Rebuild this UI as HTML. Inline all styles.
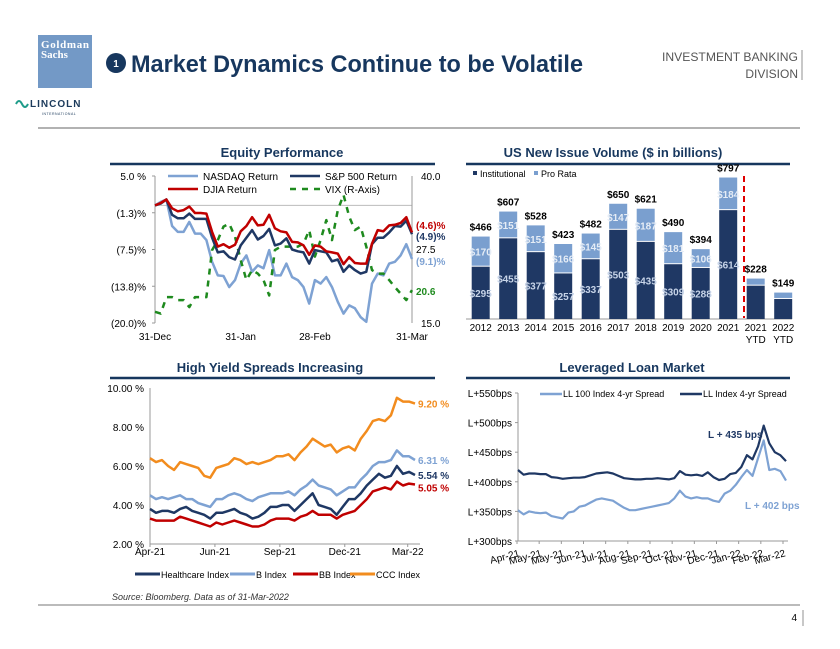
<!DOCTYPE html>
<html><head><meta charset="utf-8"><style>
html,body{margin:0;padding:0;background:#fff}
svg{display:block;font-family:"Liberation Sans",Arial,sans-serif}
</style></head><body>
<svg id="s" width="840" height="649" viewBox="0 0 840 649" xmlns="http://www.w3.org/2000/svg">
<g>
<rect x="38" y="35" width="54" height="53" fill="#7399c6"/>
<text x="41" y="48" font-family="Liberation Serif,serif" font-size="11" font-weight="bold" fill="#fff" textLength="48">Goldman</text>
<text x="41" y="58" font-family="Liberation Serif,serif" font-size="11" font-weight="bold" fill="#fff">Sachs</text>
<circle cx="116" cy="63" r="10" fill="#17375e"/>
<text x="116" y="67" font-size="10" font-weight="bold" fill="#fff" text-anchor="middle">1</text>
<text x="131" y="72" font-size="24" font-weight="bold" fill="#17375e" textLength="452" lengthAdjust="spacingAndGlyphs">Market Dynamics Continue to be Volatile</text>
<text x="798" y="61" font-size="12" fill="#555" text-anchor="end" textLength="136" lengthAdjust="spacingAndGlyphs">INVESTMENT BANKING</text>
<text x="798" y="78" font-size="12" fill="#555" text-anchor="end">DIVISION</text>
<line x1="802" y1="50" x2="802" y2="80" stroke="#777" stroke-width="0.8"/>
<path d="M16 104 q3 -6 6 0 t6 0" fill="none" stroke="#1f9c8a" stroke-width="2"/>
<text x="30" y="107" font-size="10" font-weight="bold" fill="#1b3a5b" letter-spacing="1">LINCOLN</text>
<text x="42" y="115" font-size="3.5" fill="#1b3a5b" letter-spacing="0.5">INTERNATIONAL</text>
<line x1="38" y1="128" x2="800" y2="128" stroke="#999" stroke-width="1.5"/>
</g>
<g>
<text x="112" y="600" font-size="9" font-style="italic" fill="#333">Source: Bloomberg. Data as of 31-Mar-2022</text>
<line x1="38" y1="605" x2="800" y2="605" stroke="#777" stroke-width="1"/>
<text x="797" y="621" font-size="10" fill="#000" text-anchor="end">4</text>
<line x1="803" y1="610" x2="803" y2="626" stroke="#777" stroke-width="0.8"/>
</g>
<g id="g1"></g>
<g id="g2"></g>
<g id="g3"></g>
<g id="g4"></g>
</svg>
<script>
// ---------- Chart 1 data ----------
const eqTicks = ["5.0 %","(1.3)%","(7.5)%","(13.8)%","(20.0)%"];
const eqTickVals = [5,-1.25,-7.5,-13.75,-20];
const vixTicks = ["40.0","27.5","15.0"];
const vixTickVals = [40,27.5,15];
const eqXLabels = ["31-Dec","31-Jan","28-Feb","31-Mar"];
const eqXLabelIdx = [0,15,28,45];
const nasdaq = [0,0.6,1,-3.5,-4.5,-4.5,-2.8,-4.8,-4.8,-5.9,-9.6,-11.9,-12,-13.9,-12.7,-9.9,-8.5,-11.3,-10.2,-10.7,-7.6,-11.9,-11.9,-9.9,-12.2,-12.7,-13.9,-16.7,-12.7,-13.3,-12.2,-13.9,-16.4,-18.4,-17,-17.5,-19,-19.8,-13.3,-11.6,-11.9,-9.9,-9.6,-8.5,-6.6,-9.1];
const sp500 = [0,0.3,1,-1.6,-2.2,-2.2,-1.4,-2.3,-2.3,-2.3,-5.5,-8,-7.8,-8.8,-9.2,-6.8,-5.5,-4.2,-5.8,-5.2,-4,-6.8,-6.5,-5.6,-7.5,-7.8,-8,-9.9,-7.6,-7.8,-8,-9.5,-9.2,-11.3,-10.2,-11,-11.6,-11.3,-6.6,-5.5,-5.5,-4.6,-3.5,-3.6,-2.6,-4.9];
const djia = [0,0.4,1,-0.5,-1,-0.8,-0.2,-1.3,-1.3,-1.4,-4.5,-7,-6.6,-7.2,-6.7,-4.4,-3.5,-2,-3.4,-3.3,-1.6,-3.9,-4.4,-4.6,-6.2,-6.3,-6.8,-8.4,-6.8,-7,-7.8,-8,-8.2,-10,-8.8,-9.8,-9.9,-9.9,-6.5,-4.2,-4.4,-3.4,-3.3,-3,-2,-4.6];
const vix = [16.9,16.6,19.4,19.4,18.9,18.9,17.7,19.4,19.4,19.4,27.4,29.1,31.4,31.9,29.7,25.7,22.3,24,23.4,22.3,19.7,27.4,28,28,28,28,28.5,30.8,26.3,29.1,32.5,29.1,34.2,36.8,33.1,30.8,31.4,28,24,23.4,23.4,22.3,21.1,20,18.9,20.6];
// ---------- Chart 2 data ----------
const years = ["2012","2013","2014","2015","2016","2017","2018","2019","2020","2021","2021\nYTD","2022\nYTD"];
const inst = [295,455,377,257,337,503,435,309,288,614,188,113];
const proRata = [170,151,151,166,145,147,187,181,106,184,40,36];
const totals = ["$466","$607","$528","$423","$482","$650","$621","$490","$394","$797","$228","$149"];
// ---------- Chart 3 data ----------
const hyTicks = ["10.00 %","8.00 %","6.00 %","4.00 %","2.00 %"];
const hyTickVals = [10,8,6,4,2];
const hyXLabels = ["Apr-21","Jun-21","Sep-21","Dec-21","Mar-22"];
const hyXFrac = [0,0.245,0.49,0.735,0.98];
const ccc = [6.4,6.2,6.3,6.0,5.8,6.2,6.1,6.0,5.9,5.5,5.4,5.9,6.0,6.1,6.4,6.3,6.1,6.2,6.1,6.2,6.3,6.5,6.5,6.6,6.3,6.7,7.0,7.4,7.2,7.0,7.1,6.7,6.9,7.0,6.8,7.4,7.8,8.3,8.4,8.3,8.6,9.5,9.3,9.3,9.2];
const bIdx = [4.5,4.3,4.4,4.3,4.4,4.5,4.3,4.3,4.1,4.0,3.9,4.3,4.3,4.5,4.6,4.5,4.3,4.2,4.4,4.5,4.6,4.6,4.6,4.7,4.5,4.8,5.0,5.3,5.0,4.9,4.8,4.5,4.7,4.9,4.9,5.3,5.6,6.0,6.2,6.2,6.3,6.8,6.5,6.5,6.31];
const health = [3.8,3.6,3.7,3.7,3.6,3.8,3.9,3.7,3.6,3.5,3.3,3.6,3.6,3.7,3.8,3.6,3.5,3.3,3.4,3.6,3.9,3.9,4.0,4.0,3.7,4.0,4.3,4.6,4.0,3.9,3.8,3.5,3.9,4.3,4.3,4.6,5.0,5.3,5.6,5.4,5.5,6.0,5.6,5.7,5.54];
const bbIdx = [3.3,3.2,3.2,3.2,3.2,3.4,3.3,3.2,3.1,3.0,2.9,3.1,3.0,3.1,3.2,3.1,3.0,2.9,2.9,3.0,3.2,3.3,3.3,3.3,3.2,3.4,3.5,3.7,3.5,3.5,3.5,3.3,3.5,3.6,3.7,4.0,4.3,4.7,4.8,4.9,4.8,5.2,5.0,5.1,5.05];
const hyEndLabels = ["9.20 %","6.31 %","5.54 %","5.05 %"];
// ---------- Chart 4 data ----------
const llTicks = ["L+550bps","L+500bps","L+450bps","L+400bps","L+350bps","L+300bps"];
const llTickVals = [550,500,450,400,350,300];
const llMonths = ["Apr-21","May-21","May-21","Jun-21","Jul-21","Aug-21","Sep-21","Oct-21","Nov-21","Dec-21","Jan-22","Feb-22","Mar-22"];
const llIndex = [420,412,414,414,413,413,408,407,405,406,407,407,408,411,414,415,416,414,410,406,405,404,404,405,405,406,405,404,406,418,412,411,412,410,416,408,403,405,413,415,425,445,438,460,495,465,450,445,435];
const ll100 = [352,345,350,348,347,348,342,340,338,348,350,358,360,365,370,372,370,368,362,356,352,352,354,356,358,360,362,364,372,385,375,372,374,372,372,368,366,380,385,395,408,420,410,440,470,420,422,418,402];

const NS="http://www.w3.org/2000/svg";
function mk(parent,tag,attrs,text){const e=document.createElementNS(NS,tag);for(const k in attrs)e.setAttribute(k,attrs[k]);if(text!==undefined)e.textContent=text;parent.appendChild(e);return e;}
function linear(d0,d1,r0,r1){return v=>r0+(v-d0)/(d1-d0)*(r1-r0);}
function pathFrom(arr,xf,yf){return arr.map((v,i)=>(i?"L":"M")+xf(i).toFixed(1)+" "+yf(v).toFixed(1)).join("");}
function title(g,x,y,txt,x1,x2,ly){
  const t=mk(g,"text",{x:x,y:y,"font-size":13,"font-weight":"bold",fill:"#17375e","text-anchor":"middle"},txt);
  
  
  mk(g,"line",{x1:x1,x2:x2,y1:ly,y2:ly,stroke:"#17375e","stroke-width":2.5});
}

// ===== Chart 1 =====
(function(){
const g=document.getElementById("g1");
title(g,282,157,"Equity Performance",110,435,164);
const L=155,R=412,T=176,B=323;
const y=linear(5,-20,T,B), yv=linear(40,15,T,B), x=linear(0,nasdaq.length-1,L,R);
mk(g,"line",{x1:L,x2:R,y1:y(0),y2:y(0),stroke:"#bbb","stroke-width":1});
mk(g,"line",{x1:L,x2:L,y1:T,y2:B,stroke:"#999"});
mk(g,"line",{x1:R,x2:R,y1:T,y2:B,stroke:"#999"});
eqTickVals.forEach((v,i)=>{
  const t=mk(g,"text",{x:146,y:y(v)+4,"font-size":10,"text-anchor":"end",fill:"#000"},eqTicks[i]);
  
  
  mk(g,"line",{x1:L-3,x2:L,y1:y(v),y2:y(v),stroke:"#999"});
});
vixTickVals.forEach((v,i)=>{
  if(i===1)return;
  const t=mk(g,"text",{x:421,y:yv(v)+4,"font-size":10,fill:"#000"},vixTicks[i]);
  
  
});
eqXLabelIdx.forEach((d,i)=>{
  const t=mk(g,"text",{x:x(d),y:340,"font-size":10,"text-anchor":"middle",fill:"#000"},eqXLabels[i]);
  
  
});
const series=[[nasdaq,"#7ea2d3",y,"","nasdaq-line"],[vix,"#1e8a1e",yv,"6 6","vix-line"],[sp500,"#1f3864",y,"","sp500-line"],[djia,"#c00000",y,"","djia-line"]];
series.forEach(s=>{
  const p=mk(g,"path",{d:pathFrom(s[0],x,s[2]),fill:"none",stroke:s[1],"stroke-width":2.5,"stroke-dasharray":s[3],"stroke-linejoin":"round"});
  
  
});
const lbl=[["(4.6)%","#c00000",226],["(4.9)%","#1f3864",237],["27.5","#000",250],["(9.1)%","#7ea2d3",262],["20.6","#1e8a1e",292]];
lbl.forEach(l=>{const t=mk(g,"text",{x:416,y:l[2]+3,"font-size":10,"font-weight":l[1]==="#000"?"normal":"bold",fill:l[1]},l[0]);
  
  });
const leg=[[168,176,"#7ea2d3","","NASDAQ Return"],[290,176,"#1f3864","","S&P 500 Return"],[168,189,"#c00000","","DJIA Return"],[290,189,"#1e8a1e","6 6","VIX (R-Axis)"]];
leg.forEach(l=>{
  const e=mk(g,"g",{});
  
  
  mk(e,"line",{x1:l[0],x2:l[0]+30,y1:l[1],y2:l[1],stroke:l[2],"stroke-width":2.5,"stroke-dasharray":l[3]});
  mk(e,"text",{x:l[0]+35,y:l[1]+4,"font-size":10,fill:"#000"},l[4]);
});
})();

// ===== Chart 2 =====
(function(){
const g=document.getElementById("g2");
title(g,613,157,"US New Issue Volume ($ in billions)",466,790,164);
const base=319, k=141.3/797;
const cx=i=>480.7+i*27.5, w=18;
mk(g,"line",{x1:466,x2:792,y1:base,y2:base,stroke:"#999"});
years.forEach((yr,i)=>{
  const hi=inst[i]*k, hp=proRata[i]*k;
  const r1=mk(g,"rect",{x:cx(i)-w/2,y:base-hi,width:w,height:hi,fill:"#1f3864"});
  
  
  const r2=mk(g,"rect",{x:cx(i)-w/2,y:base-hi-hp,width:w,height:hp-1,fill:"#7a9fcf"});
  
  
  if(i<10){
    mk(g,"text",{x:cx(i),y:base-hi/2+4,"font-size":10,"font-weight":"bold",fill:"#c7d4e8","text-anchor":"middle"},"$"+inst[i]);
    mk(g,"text",{x:cx(i),y:base-hi-hp/2+4,"font-size":10,"font-weight":"bold",fill:"#e6edf6","text-anchor":"middle"},"$"+proRata[i]);
  }
  const tt=mk(g,"text",{x:cx(i),y:base-hi-hp-6,"font-size":10,"font-weight":"bold",fill:"#000","text-anchor":"middle"},totals[i]);
  
  
  yr.split("\n").forEach((ln,j)=>{
    const t=mk(g,"text",{x:cx(i),y:331+j*12,"font-size":10,fill:"#000","text-anchor":"middle"},ln);
    
    
  });
});
mk(g,"line",{x1:744,x2:744,y1:176,y2:318,stroke:"#e00000","stroke-width":2,"stroke-dasharray":"6 4"});
const l1=mk(g,"g",{});
mk(l1,"rect",{x:473,y:171,width:4,height:4,fill:"#1f3864"});
mk(l1,"text",{x:480,y:177,"font-size":9,fill:"#000"},"Institutional");
const l2=mk(g,"g",{});
mk(l2,"rect",{x:534,y:171,width:4,height:4,fill:"#7a9fcf"});
mk(l2,"text",{x:541,y:177,"font-size":9,fill:"#000"},"Pro Rata");
})();

// ===== Chart 3 =====
(function(){
const g=document.getElementById("g3");
title(g,270,372,"High Yield Spreads Increasing",110,435,378);
const L=150,R=415,T=388,B=544;
const y=linear(10,2,T,B), x=linear(0,ccc.length-1,L,R);
mk(g,"line",{x1:L,x2:L,y1:T,y2:B,stroke:"#999"});
mk(g,"line",{x1:L,x2:420,y1:B,y2:B,stroke:"#999"});
hyTickVals.forEach((v,i)=>{
  const t=mk(g,"text",{x:144,y:y(v)+4,"font-size":10,"text-anchor":"end",fill:"#000"},hyTicks[i]);
  
  
});
hyXLabels.forEach((l,i)=>{
  const px=L+hyXFrac[i]*(R-L)+(i===4?-2:0);
  mk(g,"line",{x1:px,x2:px,y1:B,y2:B+3,stroke:"#999"});
  const t=mk(g,"text",{x:px,y:555,"font-size":10,"text-anchor":"middle",fill:"#000"},l);
  
  
});
const s=[[ccc,"#f28c1e","ccc-line"],[bIdx,"#7ea2d3","b-index-line"],[health,"#1f3864","healthcare-line"],[bbIdx,"#c00000","bb-index-line"]];
s.forEach(a=>{const p=mk(g,"path",{d:pathFrom(a[0],x,y),fill:"none",stroke:a[1],"stroke-width":2.5,"stroke-linejoin":"round"});
  });
const ends=[[ccc,"#f28c1e",0],[bIdx,"#7ea2d3",0],[health,"#1f3864",0],[bbIdx,"#c00000",3]];
ends.forEach((e,i)=>{const t=mk(g,"text",{x:418,y:y(e[0][e[0].length-1])+4+e[2],"font-size":10,"font-weight":"bold",fill:e[1]},hyEndLabels[i]);
  });
const leg=[[135,"#1f3864","Healthcare Index"],[230,"#7ea2d3","B Index"],[293,"#c00000","BB Index"],[350,"#f28c1e","CCC Index"]];
leg.forEach(l=>{const e=mk(g,"g",{});
  mk(e,"line",{x1:l[0],x2:l[0]+25,y1:574,y2:574,stroke:l[1],"stroke-width":3});
  mk(e,"text",{x:l[0]+26,y:578,"font-size":9,fill:"#000"},l[2]);});
})();

// ===== Chart 4 =====
(function(){
const g=document.getElementById("g4");
title(g,632,372,"Leveraged Loan Market",466,790,378);
const L=518,R=786,T=393,B=541;
const y=linear(550,300,T,B), x=linear(0,llIndex.length-1,L,R);
mk(g,"line",{x1:L,x2:L,y1:T,y2:B,stroke:"#999"});
mk(g,"line",{x1:L,x2:788,y1:B,y2:B,stroke:"#999"});
llTickVals.forEach((v,i)=>{
  mk(g,"line",{x1:L-3,x2:L,y1:y(v),y2:y(v),stroke:"#999"});
  const t=mk(g,"text",{x:512,y:y(v)+4,"font-size":10,"text-anchor":"end",fill:"#000"},llTicks[i]);
  
});
const mx=linear(0,llMonths.length-1,517,783);
llMonths.forEach((m,i)=>{
  mk(g,"line",{x1:mx(i),x2:mx(i),y1:B,y2:B+3,stroke:"#999"});
  const t=mk(g,"text",{x:mx(i)+3,y:556,"font-size":10,"text-anchor":"end",fill:"#000",transform:`rotate(-15 ${mx(i)+3} 556)`},m);
  
});
const p1=mk(g,"path",{d:pathFrom(ll100,x,y),fill:"none",stroke:"#7ea2d3","stroke-width":2.2,"stroke-linejoin":"round"});

const p2=mk(g,"path",{d:pathFrom(llIndex,x,y),fill:"none",stroke:"#1f3864","stroke-width":2.2,"stroke-linejoin":"round"});

const a1=mk(g,"text",{x:708,y:438,"font-size":10,"font-weight":"bold",fill:"#1f3864"},"L + 435 bps");

const a2=mk(g,"text",{x:745,y:509,"font-size":10,"font-weight":"bold",fill:"#7ea2d3"},"L + 402 bps");

const leg=[[540,"#7ea2d3","LL 100 Index 4-yr Spread"],[680,"#1f3864","LL Index 4-yr Spread"]];
leg.forEach(l=>{const e=mk(g,"g",{});
  mk(e,"line",{x1:l[0],x2:l[0]+22,y1:394,y2:394,stroke:l[1],"stroke-width":2.5});
  mk(e,"text",{x:l[0]+23,y:397,"font-size":9,fill:"#000"},l[2]);});
})();
</script>
</body></html>
